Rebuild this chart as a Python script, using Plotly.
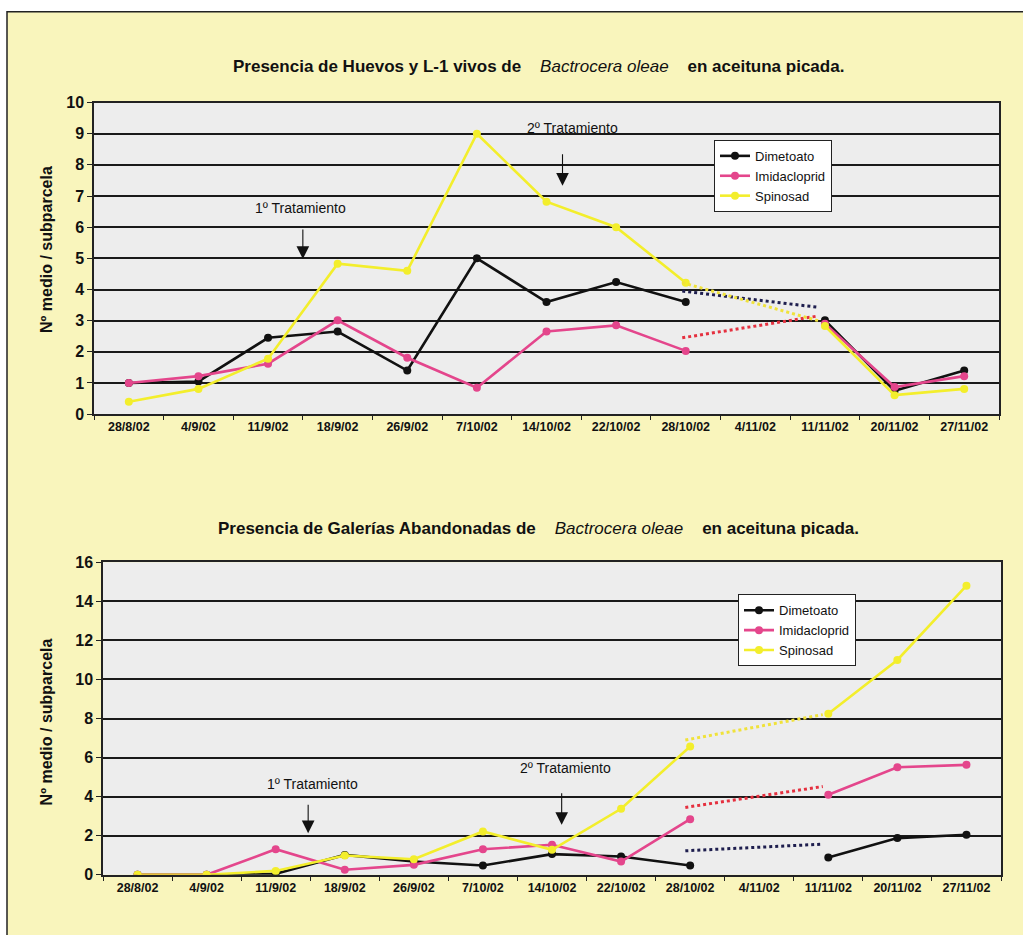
import plotly.graph_objects as go

# Sampling dates (4/11/02 had no sampling)
fechas = ["28/8/02", "4/9/02", "11/9/02", "18/9/02", "26/9/02", "7/10/02",
          "14/10/02", "22/10/02", "28/10/02", "4/11/02", "11/11/02",
          "20/11/02", "27/11/02"]

series = ["Dimetoato", "Imidacloprid", "Spinosad"]

# Huevos y L-1 vivos (nº medio / subparcela)
huevos_dimetoato = [1.0, 1.05, 2.45, 2.65, 1.4, 5.0, 3.6, 4.24, 3.6, None, 3.01, 0.75, 1.4]
huevos_imidacloprid = [1.0, 1.22, 1.62, 3.01, 1.81, 0.85, 2.65, 2.85, 2.03, None, 2.9, 0.87, 1.22]
huevos_spinosad = [0.4, 0.81, 1.78, 4.83, 4.6, 9.0, 6.82, 6.0, 4.22, None, 2.83, 0.61, 0.81]

# Galerías abandonadas (nº medio / subparcela)
galerias_dimetoato = [0.0, 0.0, 0.05, 1.02, 0.68, 0.48, 1.06, 0.94, 0.48, None, 0.89, 1.88, 2.05]
galerias_imidacloprid = [0.0, 0.0, 1.31, 0.26, 0.51, 1.31, 1.54, 0.68, 2.85, None, 4.1, 5.51, 5.63]
galerias_spinosad = [0.0, 0.0, 0.2, 0.99, 0.8, 2.22, 1.28, 3.38, 6.57, None, 8.25, 11.0, 14.8]

# Dotted bridges across the missing 4/11/02 sample (start value, end value)
huevos_puente_ini = [3.95, 2.45, 4.22]
huevos_puente_fin = [3.43, 3.15, 3.0]
galerias_puente_ini = [1.23, 3.45, 6.9]
galerias_puente_fin = [1.57, 4.52, 8.2]

colores = ["#111111", "#E4468C", "#F3EE2C"]
colores_puente = ["#1E1E4E", "#E5303F", "#F0E23A"]

W, H = 1023, 935
FONT = "Liberation Sans, Arial, sans-serif"
FONDO = "#F9F5BC"
GRIS = "#EDEDED"


def px_x(p):
    return p / W


def px_y(p):
    # vertical page position (px from top) -> paper fraction
    p = (p - 7.2) / 0.981
    return 1 - p / H


fig = go.Figure()

datos = [
    ("x", "y", "legend", [huevos_dimetoato, huevos_imidacloprid, huevos_spinosad]),
    ("x2", "y2", "legend2", [galerias_dimetoato, galerias_imidacloprid, galerias_spinosad]),
]
for xa, ya, leg, valores in datos:
    for nombre, vals, col in zip(series, valores, colores):
        fig.add_trace(go.Scatter(
            x=fechas, y=vals, name=nombre, xaxis=xa, yaxis=ya, legend=leg,
            mode="lines+markers", connectgaps=False,
            line=dict(color=col, width=2.6),
            marker=dict(color=col, size=8),
        ))

shapes = [
    # pale yellow page with frame
    dict(type="rect", xref="paper", yref="paper", x0=px_x(7), x1=1.05,
         y0=-0.05, y1=px_y(11), fillcolor=FONDO,
         line=dict(color="#222222", width=1.5), layer="below"),
    # grey plot areas
    dict(type="rect", xref="x domain", yref="y domain", x0=0, x1=1, y0=0, y1=1,
         fillcolor=GRIS, line=dict(width=0), layer="below"),
    dict(type="rect", xref="x2 domain", yref="y2 domain", x0=0, x1=1, y0=0, y1=1,
         fillcolor=GRIS, line=dict(width=0), layer="below"),
]

for ini, fin, col in zip(huevos_puente_ini, huevos_puente_fin, colores_puente):
    shapes.append(dict(type="line", xref="x", yref="y", x0=7.95, x1=9.9,
                       y0=ini, y1=fin, line=dict(color=col, width=3, dash="dot")))
for ini, fin, col in zip(galerias_puente_ini, galerias_puente_fin, colores_puente):
    shapes.append(dict(type="line", xref="x2", yref="y2", x0=7.93, x1=9.92,
                       y0=ini, y1=fin, line=dict(color=col, width=3, dash="dot")))

annotations = []


def titulo(texto_a, texto_b, ypx, xc):
    sp = "\u00a0" * 4
    return dict(xref="paper", yref="paper", x=px_x(xc), y=px_y(ypx),
                xanchor="center", yanchor="middle", showarrow=False,
                text=f"<b>{texto_a}</b>{sp}<i>Bactrocera oleae</i>{sp}<b>{texto_b}</b>",
                font=dict(family=FONT, size=17, color="#111111"))


annotations.append(titulo("Presencia de Huevos y L-1 vivos de", "en aceituna picada.", 66, 538))
annotations.append(titulo("Presencia de Galerías Abandonadas de", "en aceituna picada.", 527, 538))

for ycen in (249, 721):
    annotations.append(dict(xref="paper", yref="paper", x=px_x(46), y=px_y(ycen),
                            text="<b>Nº medio / subparcela</b>", textangle=-90,
                            showarrow=False, xanchor="center", yanchor="middle",
                            font=dict(family=FONT, size=16, color="#111111")))

# treatment labels and arrows
tratamientos = [
    ("x", "y", "1º Tratamiento", 2.46, 6.63, 2.5, 4.98, -31),
    ("x", "y", "2º Tratamiento", 6.37, 9.17, 6.23, 7.33, -33),
    ("x2", "y2", "1º Tratamiento", 2.54, 4.63, 2.47, 2.13, -30),
    ("x2", "y2", "2º Tratamiento", 6.19, 5.46, 6.14, 2.56, -33),
]
for xa, ya, txt, tx, ty, axx, tip, largo in tratamientos:
    annotations.append(dict(xref=xa, yref=ya, x=tx, y=ty, text=txt, showarrow=False,
                            font=dict(family=FONT, size=14, color="#111111")))
    annotations.append(dict(xref=xa, yref=ya, x=axx, y=tip, text="", showarrow=True,
                            ax=0, ay=largo, arrowhead=2, arrowsize=2.3,
                            arrowwidth=1.1, arrowcolor="#111111", standoff=0))

eje_x = dict(type="category", tickson="boundaries", ticks="outside", ticklen=4,
             tickcolor="#222222", showline=True, linecolor="#222222", linewidth=1.5,
             mirror=True, showgrid=False, zeroline=False,
             tickfont=dict(family=FONT, size=12.5, color="#111111"),
             tickprefix="<b>", ticksuffix="</b>", range=[-0.5, 12.5], fixedrange=True)
eje_y = dict(ticks="outside", ticklen=5, tickcolor="#222222", showline=True,
             linecolor="#222222", linewidth=1.5, mirror=True, showgrid=True,
             gridcolor="#1A1A1A", gridwidth=1.6, zeroline=False,
             tickfont=dict(family=FONT, size=16, color="#111111"),
             tickprefix="<b>", ticksuffix="</b>", fixedrange=True)

leyenda = dict(bgcolor="white", bordercolor="#222222", borderwidth=1,
               font=dict(family=FONT, size=13, color="#111111"),
               xanchor="left", yanchor="top", itemclick=False, tracegroupgap=0,
               itemwidth=30)

fig.update_layout(
    width=W, height=H, autosize=False,
    margin=dict(l=0, r=0, t=0, b=0),
    paper_bgcolor="white", plot_bgcolor=GRIS,
    font=dict(family=FONT, color="#111111"),
    xaxis=dict(eje_x, domain=[px_x(94), px_x(999)], anchor="y"),
    yaxis=dict(eje_y, domain=[px_y(413), px_y(101.7)], range=[0, 10], dtick=1, anchor="x"),
    xaxis2=dict(eje_x, domain=[px_x(103), px_x(1001)], anchor="y2"),
    yaxis2=dict(eje_y, domain=[px_y(873.3), px_y(561)], range=[0, 16], dtick=2, anchor="x2"),
    legend=dict(leyenda, x=px_x(714), y=px_y(139)),
    legend2=dict(leyenda, x=px_x(738), y=px_y(593)),
    shapes=shapes,
    annotations=annotations,
    showlegend=True,
)

fig.write_html("out.html")
